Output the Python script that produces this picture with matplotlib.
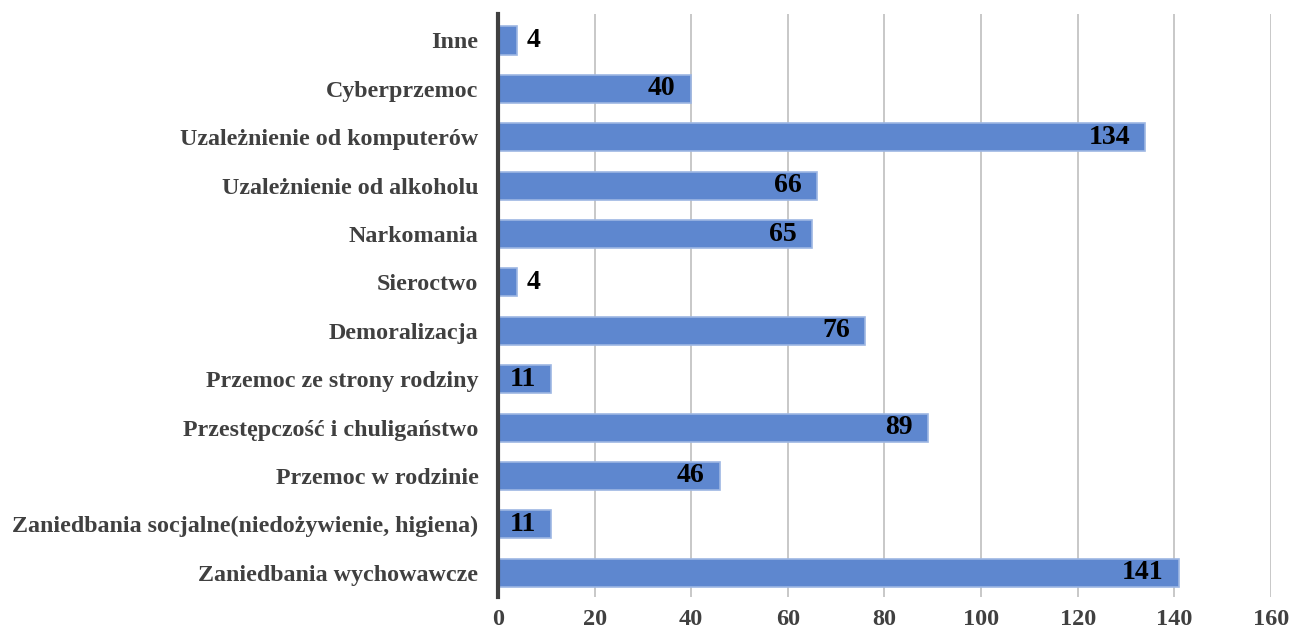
import matplotlib.pyplot as plt

kategorie = ["Zaniedbania wychowawcze",
             "Zaniedbania socjalne(niedożywienie, higiena)",
             "Przemoc w rodzinie",
             "Przestępczość i chuligaństwo",
             "Przemoc ze strony rodziny",
             "Demoralizacja",
             "Sieroctwo",
             "Narkomania",
             "Uzależnienie od alkoholu",
             "Uzależnienie od komputerów",
             "Cyberprzemoc",
             "Inne"]
wartosci = [141, 11, 46, 89, 11, 76, 4, 65, 66, 134, 40, 4]
ticki = [0, 20, 40, 60, 80, 100, 120, 140, 160]

plt.rcParams['font.family'] = ['Liberation Serif', 'DejaVu Serif']
plt.rcParams['font.weight'] = 'bold'

fig = plt.figure(figsize=(12.91, 6.31), dpi=100)
ax = fig.add_axes([0.3857, 0.054, 0.5988, 0.924])

pozycje = range(len(kategorie))
ax.barh(pozycje, wartosci, height=0.58, color="#5E87CF", edgecolor="#9DB6E3",
        linewidth=1.2, zorder=2)

# etykiety wartosci: w srodku konca slupka, male na zewnatrz
for y, v in zip(pozycje, wartosci):
    if v < 8:
        ax.text(v + 2.0, y, str(v), ha="left", va="center", fontsize=20,
                fontweight="bold", color="black", zorder=3)
    else:
        ax.text(v - 3.2, y, str(v), ha="right", va="center", fontsize=20,
                fontweight="bold", color="black", zorder=3)

ax.set_yticks(list(pozycje))
ax.set_yticklabels(kategorie, fontsize=17.3, fontweight="bold", color="#404040")
ax.set_xticks(ticks=ticki)
ax.set_xticklabels([str(t) for t in ticki], fontsize=17.5, fontweight="bold", color="#404040")
ax.set_xlim(0, 160)
ax.set_ylim(-0.5, len(kategorie) - 0.45)

ax.grid(axis="x", color="#BFBFBF", linewidth=1.2, zorder=0)
ax.set_axisbelow(True)
for s in ["top", "right", "bottom"]:
    ax.spines[s].set_visible(False)
ax.spines["left"].set_color("#404040")
ax.spines["left"].set_linewidth(3)
ax.tick_params(axis="both", length=0)
ax.tick_params(axis="y", pad=14)
ax.tick_params(axis="x", pad=9)

fig.savefig("out.png", dpi=100)
